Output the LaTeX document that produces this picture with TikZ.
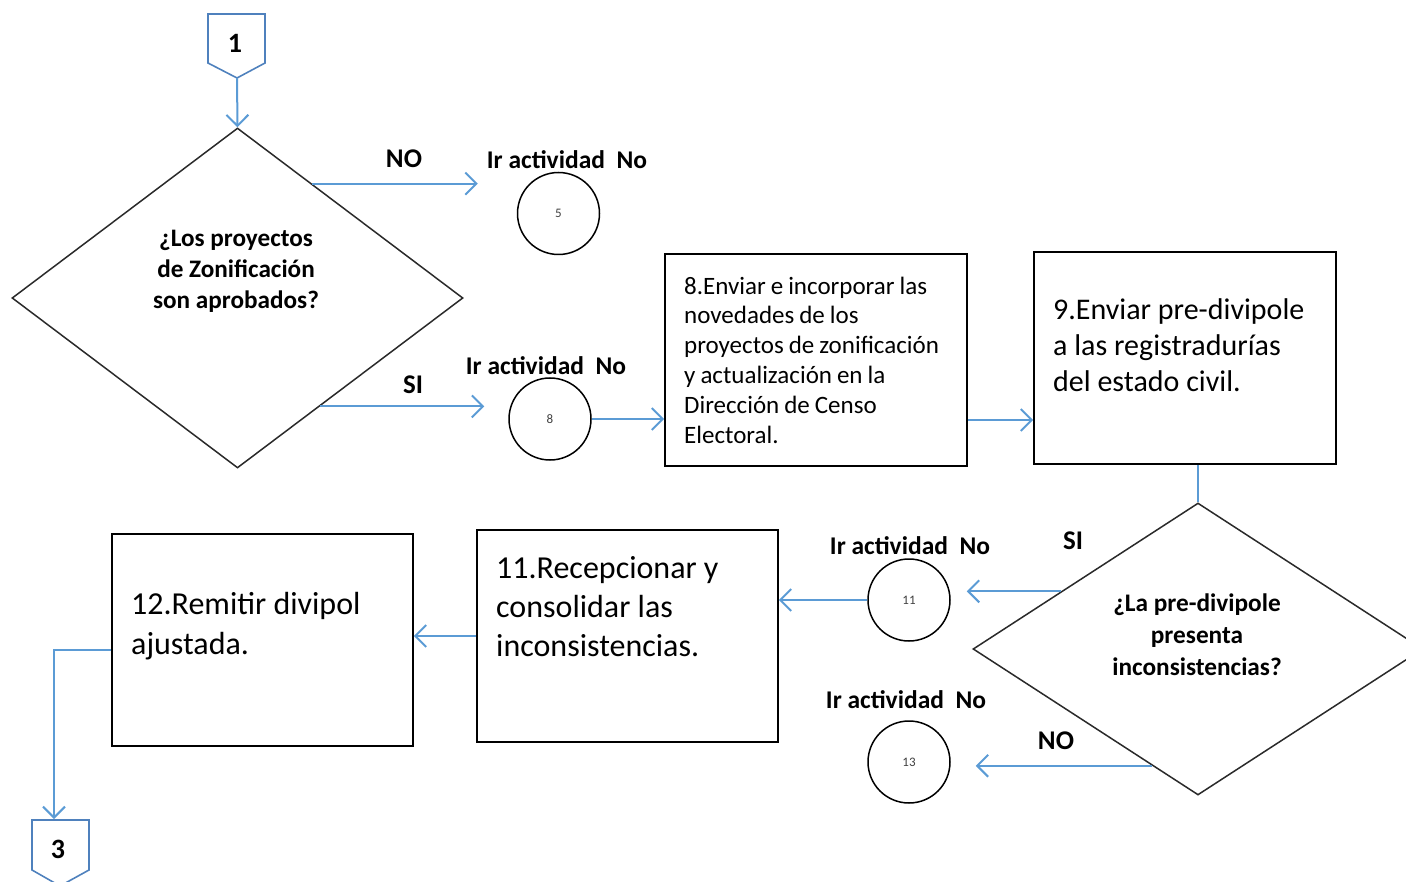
\documentclass[tikz,border=0pt]{standalone}
\usepackage{fontspec}
\setmainfont{Carlito}
\usetikzlibrary{arrows.meta,shapes.geometric,calc}
\definecolor{flowblue}{HTML}{5B9BD5}
\definecolor{connblue}{HTML}{4F81BD}
\definecolor{edgegray}{HTML}{2A2A2A}
\newcommand\mytightspace{\spaceskip=0.2em\relax}
\begin{document}
\begin{tikzpicture}[x=1pt,y=-1pt,
  arr/.style={draw=flowblue,line width=2pt,-{Straight Barb[length=11pt,width=22pt]}},
  plainline/.style={draw=flowblue,line width=2pt},
  box/.style={draw=black,line width=1.6pt,minimum width=302pt,minimum height=212pt,inner sep=0pt},
  dec/.style={draw=edgegray,line width=1.5pt,diamond,inner sep=0pt},
  circ/.style={draw=black,line width=1.5pt,circle,minimum size=82pt,inner sep=0pt,text=black!75,font=\fontsize{13}{14}\selectfont},
  conn/.style={draw=connblue,line width=1.6pt,line join=miter},
  lbl/.style={inner sep=0pt,font=\bfseries\fontsize{25.5}{30}\selectfont},
  yn/.style={inner sep=0pt,font=\bfseries\fontsize{27}{30}\selectfont},
  qtext/.style={inner sep=0pt,align=center,font=\bfseries\fontsize{25.2}{31}\selectfont},
  btext/.style={inner sep=0pt,align=left,anchor=west}
]
\useasboundingbox (0,0) rectangle (1406,882);
\clip (0,0) rectangle (1406,882);

% off-page connector 1
\draw[conn] (208,14) -- (265,14) -- (265,63) -- (237,78) -- (208,63) -- cycle;
\node[inner sep=0pt,font=\bfseries\fontsize{28}{30}\selectfont] (p1) at (235,43) {1};
\coordinate (p1tip) at (237,78);

% decision 1
\node[dec,minimum width=451pt,minimum height=340pt] (d1) at (237.5,298) {};
\node[qtext] (d1t) at (236,271) {¿Los proyectos\\de Zonificación\\son aprobados?};

% connectors circles
\node[circ] (c5) at (558.5,213.5) {5};
\node[circ] (c8) at (550,419) {8};
\node[circ] (c11) at (909,600) {11};
\node[circ] (c13) at (909,762) {13};

\node[lbl] (l5) at (567,160) {Ir actividad\ \ No};
\node[lbl] (l8) at (546,366) {Ir actividad\ \ No};
\node[lbl] (l11) at (910,546) {Ir actividad\ \ No};
\node[lbl] (l13) at (906,700) {Ir actividad\ \ No};

\node[yn] (no1) at (404,159) {NO};
\node[yn] (si1) at (413,385) {SI};
\node[yn] (si2) at (1073,541) {SI};
\node[yn] (no2) at (1056,741) {NO};

% boxes
\node[box] (b8) at (816,360) {};
\node[btext,font=\fontsize{25}{29.8}\selectfont\mytightspace] (t8) at (684,360)
  {8.Enviar e incorporar las\\novedades de los\\proyectos de zonificación\\y actualización en la\\Dirección de Censo\\Electoral.};
\node[box] (b9) at (1185,358) {};
\node[btext,font=\fontsize{30}{36}\selectfont] (t9) at (1053,345)
  {9.Enviar pre-divipole\\a las registradurías\\del estado civil.};
\node[box,minimum width=301pt] (b11) at (627.5,636) {};
\node[btext,font=\fontsize{32}{39}\selectfont] (t11) at (496,607)
  {11.Recepcionar y\\consolidar las\\inconsistencias.};
\node[box,minimum width=301pt] (b12) at (262.5,640) {};
\node[btext,font=\fontsize{32}{40}\selectfont] (t12) at (131,626)
  {12.Remitir divipol\\ajustada.};

% decision 2
\node[dec,minimum width=450pt,minimum height=292pt] (d2) at (1198,649) {};
\node[qtext,font=\bfseries\fontsize{25.3}{32}\selectfont] (d2t) at (1197,635) {¿La pre-divipole\\presenta\\inconsistencias?};

% off-page connector 3
\draw[conn] (32,820) -- (89,820) -- (89,870) -- (60,886) -- (32,870) -- cycle;
\node[inner sep=0pt,font=\bfseries\fontsize{28}{30}\selectfont] (p3) at (58,849) {3};
\coordinate (p3in) at (54,819);

% helper coordinates
\coordinate (d1no) at ($(d1.north)!0.33!(d1.east)$);
\coordinate (e5) at ($(c5.west |- d1no)+(-39,0)$);
\coordinate (d1si) at ($(d1.east)!0.635!(d1.south)$);
\coordinate (e8) at ($(c8.west |- d1si)+(-24,0)$);
\coordinate (d2si) at ($(d2.north)!0.607!(d2.west)$);
\coordinate (e11) at ($(c11.east |- d2si)+(16,0)$);
\coordinate (d2no) at ($(d2.west)!0.796!(d2.south)$);
\coordinate (e13) at ($(c13.east |- d2no)+(25,0)$);
\coordinate (b8out) at ($(b8.east)+(0,60)$);
\coordinate (b12out) at ($(b12.west)+(0,10)$);

% connectors
\draw[arr] (p1tip) -- (d1.north);
\draw[arr] (d1no) -- (e5);
\draw[arr] (d1si) -- (e8);
\draw[arr] (c8.east) -- (b8.west |- c8.east);
\draw[arr] (b8out) -- (b9.west |- b8out);
\draw[plainline] (d2.north |- b9.south) -- (d2.north);
\draw[arr] (d2si) -- (e11);
\draw[arr] (d2no) -- (e13);
\draw[arr] (c11.west) -- (b11.east |- c11.west);
\draw[arr] (b11.west) -- (b12.east |- b11.west);
\draw[arr] (b12out) -| (p3in);
\end{tikzpicture}
\end{document}
